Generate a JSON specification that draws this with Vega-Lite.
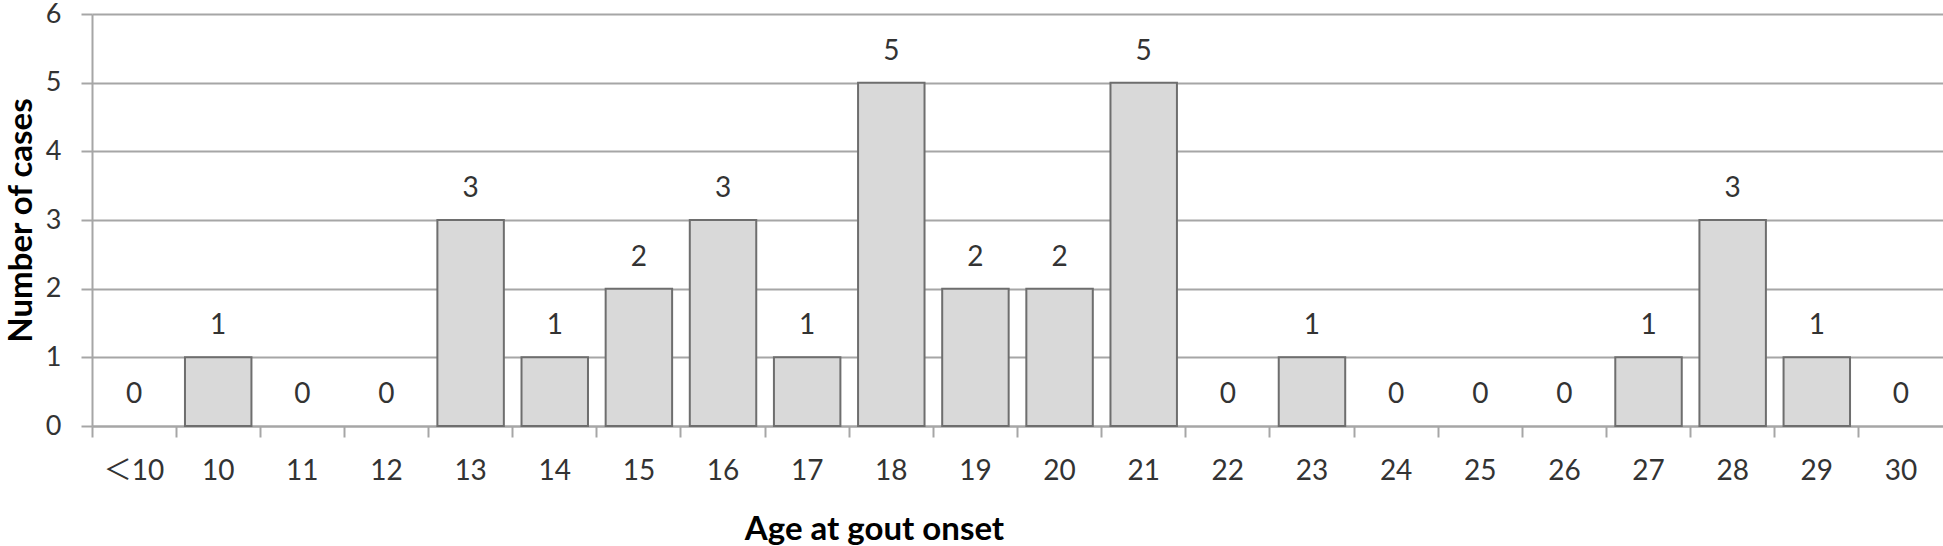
{
  "$schema": "https://vega.github.io/schema/vega-lite/v6.json",
  "width": 1851,
  "height": 412,
  "autosize": {"type": "none"},
  "padding": {"left": 92, "top": 14, "right": 0, "bottom": 120},
  "background": "white",
  "config": {"view": {"stroke": null}, "font": "Lato"},
  "data": {
    "values": [
      {"age": "＜10", "n": 0},
      {"age": "10", "n": 1},
      {"age": "11", "n": 0},
      {"age": "12", "n": 0},
      {"age": "13", "n": 3},
      {"age": "14", "n": 1},
      {"age": "15", "n": 2},
      {"age": "16", "n": 3},
      {"age": "17", "n": 1},
      {"age": "18", "n": 5},
      {"age": "19", "n": 2},
      {"age": "20", "n": 2},
      {"age": "21", "n": 5},
      {"age": "22", "n": 0},
      {"age": "23", "n": 1},
      {"age": "24", "n": 0},
      {"age": "25", "n": 0},
      {"age": "26", "n": 0},
      {"age": "27", "n": 1},
      {"age": "28", "n": 3},
      {"age": "29", "n": 1},
      {"age": "30", "n": 0}
    ]
  },
  "encoding": {
    "x": {
      "field": "age",
      "type": "nominal",
      "sort": null,
      "scale": {
        "domain": ["＜10", "10", "11", "12", "13", "14", "15", "16", "17", "18", "19", "20", "21", "22", "23", "24", "25", "26", "27", "28", "29", "30"],
        "paddingInner": 0,
        "paddingOuter": 0
      },
      "axis": {
        "labelAngle": 0,
        "bandPosition": 0,
        "labelOverlap": false,
        "tickSize": 11,
        "tickWidth": 2,
        "tickColor": "#a6a6a6",
        "domainColor": "#a6a6a6",
        "domainWidth": 2,
        "grid": false,
        "labelFont": "Lato, Noto Sans CJK JP",
        "labelFontSize": 28,
        "labelColor": "#333333",
        "labelPadding": 34,
        "labelBaseline": "middle",
        "title": "Age at gout onset",
        "titleFont": "Lato",
        "titleFontSize": 33,
        "titleFontWeight": "bold",
        "titleColor": "#000000",
        "titleX": 782,
        "titleY": 103,
        "titleBaseline": "middle",
        "titleAlign": "center"
      }
    },
    "y": {
      "field": "n",
      "type": "quantitative",
      "scale": {"domain": [0, 6], "nice": false},
      "axis": {
        "values": [0, 1, 2, 3, 4, 5, 6],
        "grid": true,
        "gridColor": "#a6a6a6",
        "gridWidth": 2,
        "domainColor": "#a6a6a6",
        "domainWidth": 2,
        "tickColor": "#a6a6a6",
        "tickWidth": 2,
        "tickSize": 11,
        "labelFont": "Lato",
        "labelFontSize": 27,
        "labelColor": "#333333",
        "labelPadding": 20,
        "title": "Number of cases",
        "titleFont": "Lato",
        "titleFontSize": 33,
        "titleFontWeight": "bold",
        "titleColor": "#000000",
        "titleX": -71,
        "titleY": 206,
        "titleAngle": -90,
        "titleBaseline": "middle",
        "titleAlign": "center"
      }
    }
  },
  "layer": [
    {
      "transform": [{"filter": "datum.n > 0"}],
      "mark": {"type": "bar", "width": {"band": 0.79}, "fill": "#d9d9d9", "stroke": "#6e6e6e", "strokeWidth": 2}
    },
    {
      "mark": {"type": "text", "baseline": "middle", "dy": -31, "fontSize": 28, "font": "Lato", "color": "#333333"},
      "encoding": {"text": {"field": "n", "type": "quantitative"}}
    }
  ]
}
